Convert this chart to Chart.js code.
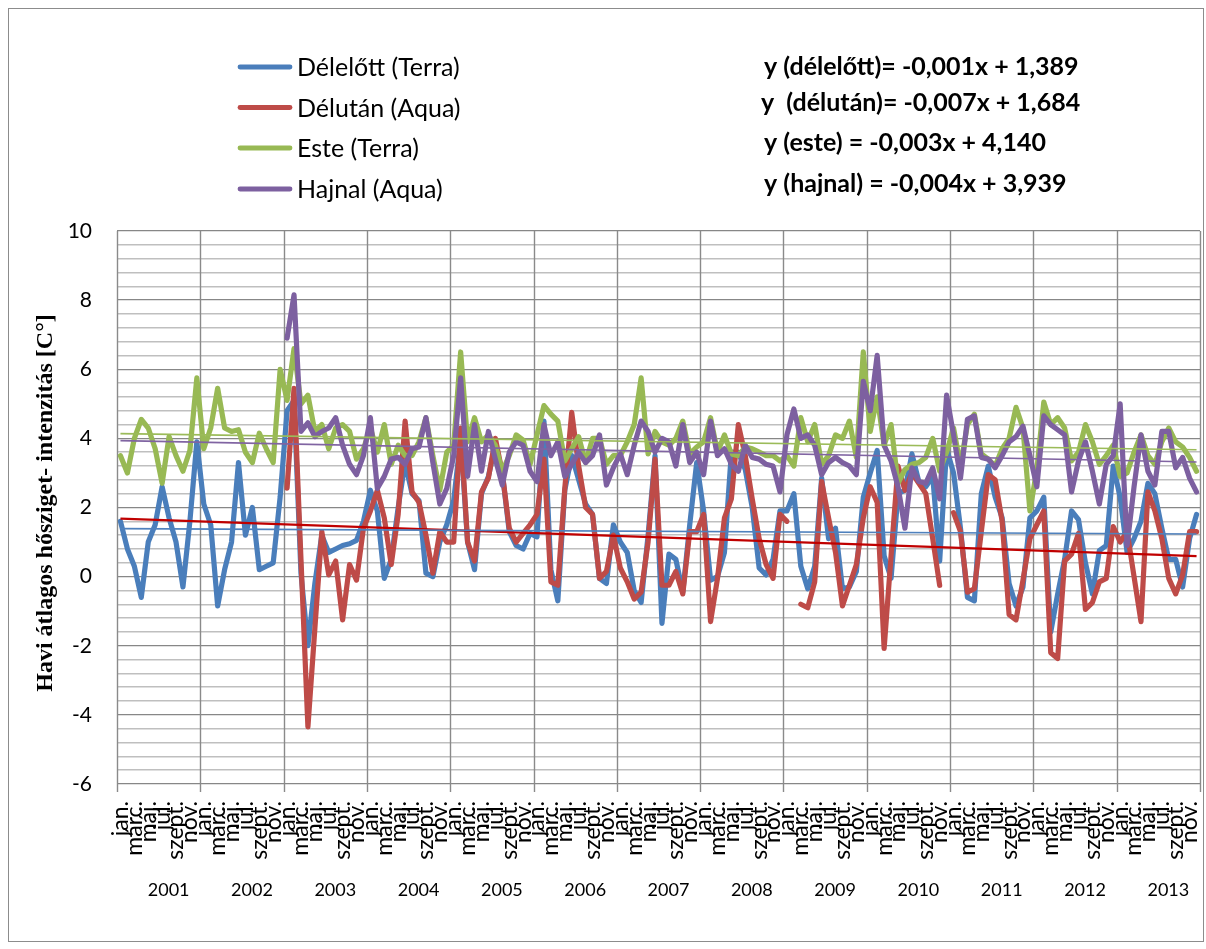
<!DOCTYPE html>
<html>
<head>
<meta charset="utf-8">
<script src="https://cdn.jsdelivr.net/npm/chart.js@4.4.1/dist/chart.umd.min.js"></script>
<style>
  html, body { margin: 0; padding: 0; background: #fff; }
  #wrap { width: 1206px; height: 949px; position: relative; }
</style>
</head>
<body>
<div id="wrap"><canvas id="c" width="1206" height="949"></canvas></div>
<script>
// Years on the category axis and the month labels shown under each year
const years = ['2001','2002','2003','2004','2005','2006','2007','2008','2009','2010','2011','2012','2013'];
const tickLabels = ['jan.','márc.','máj.','júl.','szept.','nov.'];

// Monthly mean urban heat island intensity [°C], one row per year
const delelott = [
  1.6, 0.8, 0.3, -0.6, 1.0, 1.5, 2.6, 1.7, 1.0, -0.3, 1.6, 3.9,
  2.1, 1.5, -0.85, 0.2, 1.0, 3.3, 1.2, 2.0, 0.2, 0.3, 0.4, 2.3,
  4.8, 5.1, 0.1, -2.0, -0.2, 1.2, 0.7, 0.8, 0.9, 0.95, 1.05, 1.6,
  2.5, 1.9, -0.05, 0.5, 2.0, 3.3, 2.4, 2.2, 0.1, 0.0, 1.0, 1.5,
  2.2, 4.0, 1.0, 0.2, 2.4, 2.9, 3.8, 3.0, 1.3, 0.9, 0.8, 1.25,
  1.15, 4.5, 0.2, -0.7, 2.5, 3.5, 2.8, 2.1, 1.8, -0.05, -0.2, 1.5,
  1.0, 0.7, -0.4, -0.75, 1.2, 3.5, -1.35, 0.65, 0.5, -0.45, 1.5, 3.3,
  1.9, -0.1, 0.0, 0.7, 3.6, 3.6, 3.1, 2.0, 0.25, 0.05, 0.5, 1.9,
  1.9, 2.4, 0.3, -0.35, 0.3, 2.85, 1.1, 1.4, -0.35, -0.3, 0.15, 2.3,
  3.0, 3.65, 0.6, -0.05, 2.4, 2.5, 3.55, 2.75, 2.6, 2.9, 0.45, 3.7,
  3.0, 1.4, -0.6, -0.7, 2.4, 3.2, 2.3, 1.7, -0.2, -0.85, -0.3, 1.7,
  1.9, 2.3, -1.6, -0.5, 0.5, 1.9, 1.65, 0.4, -0.5, 0.75, 0.9, 3.2,
  2.3, 0.7, 1.1, 1.6, 2.7, 2.4, 1.4, 0.5, 0.5, -0.3, 1.1, 1.8
];
const delutan = [
  null, null, null, null, null, null, null, null, null, null, null, null,
  null, null, null, null, null, null, null, null, null, null, null, null,
  2.56, 5.45, 0.5, -4.35, -1.5, 1.3, 0.05, 0.45, -1.25, 0.35, -0.1, 1.4,
  1.9, 2.5, 1.7, 0.35, 1.8, 4.5, 2.45, 2.15, 1.2, 0.1, 1.3, 1.0,
  1.0, 4.3, 1.0, 0.45, 2.45, 2.85, 4.0, 3.0, 1.4, 1.0, 1.25, 1.5,
  1.8, 3.4, -0.15, -0.25, 2.55, 4.75, 3.2, 2.0, 1.8, -0.05, 0.15, 1.2,
  0.25, -0.15, -0.65, -0.45, 1.0, 3.4, -0.25, -0.25, 0.15, -0.5, 1.3, 1.3,
  1.8, -1.3, -0.05, 1.7, 2.25, 4.4, 3.5, 2.25, 1.1, 0.35, -0.05, 1.8,
  1.6, null, -0.8, -0.9, -0.15, 2.75, 1.7, 0.7, -0.85, -0.25, 0.35, 1.7,
  2.6, 2.15, -2.08, 0.6, 3.2, 2.5, 3.0, 2.7, 2.4, 1.1, -0.25, null,
  1.85, 1.3, -0.45, -0.35, 1.3, 2.95, 2.8, 1.6, -1.1, -1.25, -0.1, 1.1,
  1.5, 1.9, -2.2, -2.37, 0.45, 0.65, 1.25, -0.95, -0.75, -0.15, -0.05, 1.45,
  1.0, 1.3, 0.0, -1.3, 2.45, 1.9, 1.1, -0.05, -0.5, 0.05, 1.3, 1.3
];
const este = [
  3.5, 3.0, 4.0, 4.55, 4.3, 3.7, 2.7, 4.05, 3.5, 3.05, 3.65, 5.75,
  3.7, 4.3, 5.45, 4.3, 4.2, 4.25, 3.6, 3.3, 4.15, 3.7, 3.3, 6.0,
  5.1, 6.6, 5.0, 5.25, 4.2, 4.4, 3.7, 4.3, 4.4, 4.2, 3.4, 3.7,
  4.3, 3.6, 4.4, 3.25, 3.8, 3.5, 3.5, 3.9, 4.6, 3.5, 2.5, 3.6,
  3.8, 6.5, 3.9, 4.6, 3.9, 4.1, 3.8, 3.05, 3.5, 4.1, 3.95, 3.25,
  4.1, 4.95, 4.7, 4.5, 3.35, 3.7, 4.05, 3.3, 4.0, 4.0, 3.25, 3.5,
  3.5, 3.9, 4.4, 5.75, 3.55, 4.2, 3.9, 3.8, 4.0, 4.5, 3.55, 3.75,
  3.9, 4.6, 3.6, 4.1, 3.55, 3.5, 3.75, 3.7, 3.6, 3.5, 3.5, 3.35,
  3.5, 3.2, 4.6, 3.9, 4.4, 3.25, 3.5, 4.1, 4.0, 4.5, 3.45, 6.5,
  4.2, 5.2, 3.8, 4.4, 2.7, 3.1, 3.25, 3.3, 3.45, 4.0, 3.05, 3.6,
  4.3, 3.2, 4.4, 4.7, 3.55, 3.4, 3.2, 3.7, 4.0, 4.9, 4.3, 1.9,
  3.1, 5.05, 4.4, 4.6, 4.3, 3.35, 3.6, 4.4, 3.9, 3.25, 3.5, 3.8,
  2.9, 3.0, 3.6, 4.1, 3.5, 3.25, 3.9, 4.3, 3.9, 3.75, 3.45, 3.05
];
const hajnal = [
  null, null, null, null, null, null, null, null, null, null, null, null,
  null, null, null, null, null, null, null, null, null, null, null, null,
  6.9, 8.15, 4.2, 4.45, 4.05, 4.2, 4.3, 4.6, 3.8, 3.25, 2.95, 3.5,
  4.6, 2.55, 2.9, 3.4, 3.45, 3.25, 3.7, 3.75, 4.6, 3.3, 2.1, 2.55,
  3.5, 5.75, 2.9, 4.4, 3.05, 4.2, 3.4, 2.65, 3.6, 3.9, 3.8, 3.05,
  2.75, 4.4, 3.5, 3.9, 2.9, 3.25, 3.6, 3.3, 3.5, 4.1, 2.65, 3.15,
  3.55, 2.95, 3.8, 4.5, 4.2, 3.6, 4.0, 3.9, 3.2, 4.4, 3.3, 3.6,
  2.95, 4.5, 3.5, 3.7, 3.25, 3.05, 3.8, 3.45, 3.4, 3.25, 3.2, 2.45,
  4.1, 4.85, 4.0, 4.1, 3.8, 2.95, 3.3, 3.45, 3.3, 3.2, 2.95, 5.65,
  4.8, 6.4, 3.8, 3.35, 2.6, 1.4, 3.15, 2.75, 2.7, 3.15, 2.25, 5.25,
  4.1, 2.85, 4.55, 4.65, 3.45, 3.4, 3.15, 3.5, 3.9, 4.05, 4.35, 3.5,
  2.6, 4.65, 4.4, 4.25, 4.1, 2.45, 3.35, 3.9, 3.05, 2.1, 3.25, 3.5,
  5.0, 0.9, 2.6, 4.1, 3.05, 2.65, 4.2, 4.2, 3.15, 3.45, 2.85, 2.45
];

const seriesNames = ['Délelőtt (Terra)', 'Délután (Aqua)', 'Este (Terra)', 'Hajnal (Aqua)'];
const seriesColors = ['#4A7EBB', '#BE4B48', '#98B954', '#7D60A0'];

// Linear trend coefficients (x = month number, starting at 1)
const trendSlopes = [-0.001, -0.007, -0.003, -0.004];
const trendIntercepts = [1.389, 1.684, 4.140, 3.939];
const trendColors = ['#4F81BD', '#C00000', '#9BBB59', '#8064A2'];
const trendWidths = [1.6, 2.2, 1.6, 1.6];
const equationTexts = [
  'y (délelőtt)= -0,001x + 1,389',
  'y  (délután)= -0,007x + 1,684',
  'y (este) = -0,003x + 4,140',
  'y (hajnal) = -0,004x + 3,939'
];

const yMin = -6, yMax = 10, yMajor = 2, yMinor = 0.4;
const nMonths = years.length * 12;

const toPoints = arr => arr.map((v, i) => ({ x: i, y: v }));
const isMajor = v => Math.abs(v / yMajor - Math.round(v / yMajor)) < 1e-6;

const seriesData = [delelott, delutan, este, hajnal];

const lineSets = seriesData.map((arr, k) => ({
  label: seriesNames[k],
  data: toPoints(arr),
  borderColor: seriesColors[k],
  backgroundColor: seriesColors[k],
  borderWidth: 5.2,
  pointRadius: 0,
  borderJoinStyle: 'round',
  borderCapStyle: 'round',
  tension: 0,
  spanGaps: false,
  order: 4 - k
}));

const trendSets = trendSlopes.map((m, k) => ({
  label: 'trend ' + seriesNames[k],
  data: [
    { x: 0, y: trendIntercepts[k] + m * 1 },
    { x: nMonths - 1, y: trendIntercepts[k] + m * nMonths }
  ],
  borderColor: trendColors[k],
  borderWidth: trendWidths[k],
  pointRadius: 0,
  order: 0
}));

const decor = {
  id: 'decor',
  beforeDatasetsDraw(chart) {
    const { ctx, chartArea: a, scales: { x } } = chart;
    ctx.save();
    ctx.strokeStyle = '#8a8a8a';
    ctx.lineWidth = 1.4;
    for (let k = 0; k <= years.length; k++) {
      const px = Math.round(x.getPixelForValue(k * 12 - 0.5)) + 0.5;
      ctx.beginPath();
      ctx.moveTo(px, a.top);
      ctx.lineTo(px, a.bottom + 8);
      ctx.stroke();
    }
    ctx.restore();
  },
  afterDraw(chart) {
    const { ctx, scales: { x } } = chart;
    ctx.save();

    // year row under the month labels
    ctx.fillStyle = '#000';
    ctx.font = '18px Lato';
    ctx.textAlign = 'center';
    ctx.textBaseline = 'middle';
    years.forEach((yr, k) => {
      const cx = x.getPixelForValue(k * 12 + 5.5) + 10;
      ctx.fillText(yr, cx, 890);
    });

    // legend
    const legendY = [67, 107.5, 148, 189];
    ctx.textAlign = 'left';
    ctx.font = '25px Lato';
    seriesNames.forEach((name, k) => {
      ctx.strokeStyle = seriesColors[k];
      ctx.lineWidth = 4.8;
      ctx.lineCap = 'round';
      ctx.beginPath();
      ctx.moveTo(240, legendY[k]);
      ctx.lineTo(290, legendY[k]);
      ctx.stroke();
      ctx.fillText(name, 297, legendY[k] + 1);
    });

    // trend equations
    const eqY = [67, 103, 143, 184];
    const eqX = [764, 761, 764, 764];
    ctx.font = 'bold 25px Lato';
    equationTexts.forEach((t, k) => ctx.fillText(t, eqX[k], eqY[k]));

    // y-axis title
    ctx.save();
    ctx.translate(46, 503);
    ctx.rotate(-Math.PI / 2);
    ctx.textAlign = 'center';
    ctx.font = 'bold 24px "Liberation Serif"';
    ctx.fillText('Havi átlagos hősziget- intenzitás [C°]', 0, 0);
    ctx.restore();

    // chart frame
    ctx.strokeStyle = '#8c8c8c';
    ctx.lineWidth = 1;
    ctx.strokeRect(8.5, 8.5, 1195, 933);
    ctx.restore();
  }
};

new Chart(document.getElementById('c'), {
  type: 'line',
  data: { datasets: [...trendSets, ...lineSets] },
  options: {
    responsive: false,
    animation: false,
    events: [],
    layout: { padding: { top: 231, right: 6, left: 0, bottom: 0 } },
    plugins: { legend: { display: false }, tooltip: { enabled: false } },
    scales: {
      x: {
        type: 'linear',
        min: -0.5,
        max: nMonths - 0.5,
        grid: { display: false, drawTicks: false },
        border: { display: false },
        afterBuildTicks: s => {
          s.ticks = years.flatMap((_, yi) => tickLabels.map((__, k) => ({ value: yi * 12 + k * 2 })));
        },
        afterFit: s => {
          s.height = 949 - 784;
          s.paddingLeft = 0;
          s.paddingRight = 0;
        },
        ticks: {
          autoSkip: false,
          minRotation: 90,
          maxRotation: 90,
          padding: 17,
          color: '#000',
          font: { family: 'Lato', size: 23 },
          callback: v => tickLabels[(Math.round(v) % 12) / 2]
        }
      },
      y: {
        min: yMin,
        max: yMax,
        afterBuildTicks: s => {
          const t = [];
          const n = Math.round((yMax - yMin) / yMinor);
          for (let k = 0; k <= n; k++) t.push({ value: +(yMin + k * yMinor).toFixed(2) });
          s.ticks = t;
        },
        afterFit: s => {
          s.width = 117;
          s.paddingTop = 0;
          s.paddingBottom = 0;
        },
        border: { display: false },
        grid: {
          drawTicks: false,
          lineWidth: c => isMajor(c.tick.value) ? 1.3 : 1.5,
          color: c => isMajor(c.tick.value) ? '#878787' : '#bfbfbf'
        },
        ticks: {
          autoSkip: false,
          padding: 25,
          color: '#000',
          font: { family: 'Lato', size: 21 },
          callback: v => isMajor(v) ? String(Math.round(v)) : ''
        }
      }
    }
  },
  plugins: [decor]
});
</script>
</body>
</html>
